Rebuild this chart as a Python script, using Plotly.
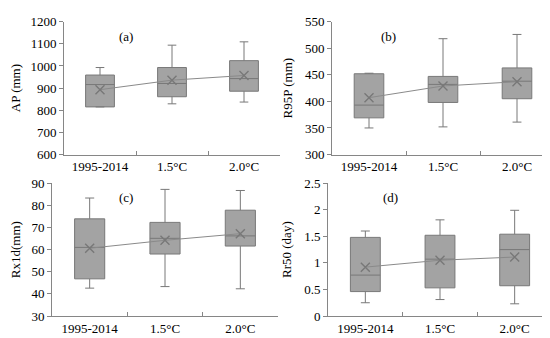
import plotly.graph_objects as go

categories = ["1995-2014", "1.5°C", "2.0°C"]

# Panel (a) AP (mm)
ap_low = [815, 829, 837]
ap_q1 = [815, 861, 886]
ap_med = [916, 921, 943]
ap_q3 = [959, 993, 1024]
ap_high = [993, 1094, 1109]
ap_mean = [893, 936, 957]

# Panel (b) R95P (mm)
r95_low = [350, 352, 361]
r95_q1 = [369, 398, 405]
r95_med = [393, 432, 438]
r95_q3 = [452, 447, 463]
r95_high = [453, 518, 526]
r95_mean = [407, 429, 437]

# Panel (c) Rx1d (mm)
rx_low = [42.6, 43.3, 42.3]
rx_q1 = [46.8, 58.0, 61.6]
rx_med = [61.0, 65.1, 66.2]
rx_q3 = [73.9, 72.3, 77.8]
rx_high = [83.3, 87.2, 86.7]
rx_mean = [60.6, 64.2, 67.2]

# Panel (d) Rr50 (day)
rr_low = [0.25, 0.31, 0.23]
rr_q1 = [0.46, 0.53, 0.57]
rr_med = [0.77, 1.07, 1.25]
rr_q3 = [1.48, 1.52, 1.54]
rr_high = [1.60, 1.81, 1.99]
rr_mean = [0.92, 1.05, 1.11]

panels = [
    dict(low=ap_low, q1=ap_q1, med=ap_med, q3=ap_q3, high=ap_high, mean=ap_mean,
         title="AP (mm)", rng=[600, 1200], dtick=100, label="(a)"),
    dict(low=r95_low, q1=r95_q1, med=r95_med, q3=r95_q3, high=r95_high, mean=r95_mean,
         title="R95P (mm)", rng=[300, 550], dtick=50, label="(b)"),
    dict(low=rx_low, q1=rx_q1, med=rx_med, q3=rx_q3, high=rx_high, mean=rx_mean,
         title="Rx1d(mm)", rng=[30, 90], dtick=10, label="(c)"),
    dict(low=rr_low, q1=rr_q1, med=rr_med, q3=rr_q3, high=rr_high, mean=rr_mean,
         title="Rr50 (day)", rng=[0, 2.5], dtick=0.5, label="(d)"),
]

W, H = 550, 338
# pixel boxes: (left, right, top, bottom)
pix = [(56, 272, 7, 146), (324, 546, 7, 146), (44, 270, 176, 315), (320, 544, 176, 315)]
label_pos = [(118, 22), (380, 22), (118, 191), (382, 191)]

font_family = "Liberation Serif"
axis_col = "#868686"
fs = 13

fig = go.Figure()
layout = dict(
    width=W, height=H, margin=dict(l=0, r=0, t=0, b=0),
    paper_bgcolor="white", plot_bgcolor="white", showlegend=False,
    font=dict(family=font_family, size=fs, color="black"),
    boxmode="overlay",
)
annotations = []
for i, (p, (l, r, t, b)) in enumerate(zip(panels, pix)):
    n = "" if i == 0 else str(i + 1)
    xa, ya = "x" + n, "y" + n
    fig.add_trace(go.Box(
        x=categories, q1=p["q1"], median=p["med"], q3=p["q3"],
        lowerfence=p["low"], upperfence=p["high"],
        xaxis=xa, yaxis=ya, width=0.4, whiskerwidth=0.3,
        fillcolor="#a3a3a3", line=dict(color="#787878", width=1),
        boxpoints=False, hoverinfo="skip",
    ))
    fig.add_trace(go.Scatter(
        x=categories, y=p["mean"], xaxis=xa, yaxis=ya, mode="lines+markers",
        line=dict(color="#8a8a8a", width=1),
        marker=dict(symbol="x-thin", size=9, line=dict(color="#787878", width=1.4)),
    ))
    layout["xaxis" + n] = dict(
        domain=[l / W, r / W], anchor=ya, type="category", range=[-0.5, 2.5],
        showline=True, linecolor=axis_col, linewidth=1, showgrid=False, zeroline=False,
        ticks="inside", tickson="boundaries", ticklen=4, tickcolor=axis_col,
        tickfont=dict(family=font_family, size=fs, color="black"),
    )
    layout["yaxis" + n] = dict(
        domain=[1 - b / H, 1 - t / H], anchor=xa, range=p["rng"], dtick=p["dtick"],
        showline=True, linecolor=axis_col, linewidth=1, showgrid=False, zeroline=False,
        ticks="outside", ticklen=4, tickcolor=axis_col,
        tickfont=dict(family=font_family, size=fs, color="black"),
        title=dict(text=p["title"], font=dict(family=font_family, size=fs, color="black"), standoff=9),
    )
    lx, ly = label_pos[i]
    annotations.append(dict(
        x=lx / W, y=1 - ly / H, xref="paper", yref="paper", text=p["label"],
        showarrow=False, font=dict(family=font_family, size=fs, color="black"),
        xanchor="center", yanchor="middle",
    ))
layout["annotations"] = annotations
fig.update_layout(**layout)
fig.write_html("out.html")
